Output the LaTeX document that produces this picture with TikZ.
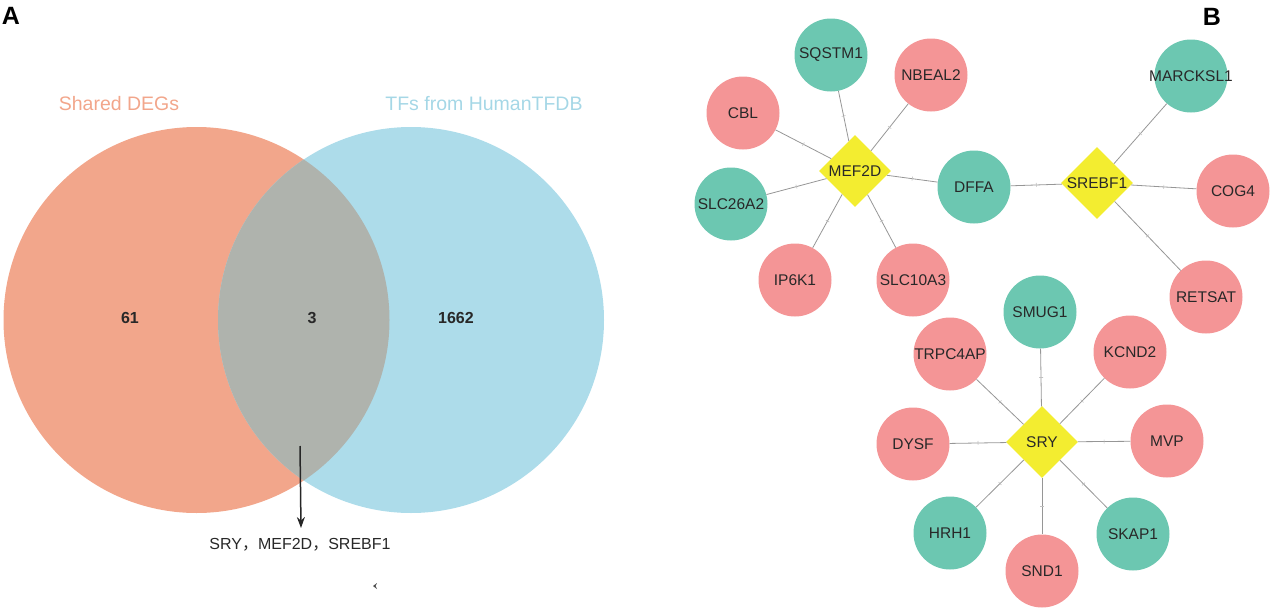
\documentclass[tikz,border=0pt]{standalone}
\usepackage{fontspec}
\setmainfont{Liberation Sans}
\newfontfamily\cjk{Noto Sans CJK SC}
\usetikzlibrary{shapes.geometric,arrows.meta,decorations.markings}
\definecolor{vorange}{RGB}{242,166,139}
\definecolor{vblue}{RGB}{173,220,234}
\definecolor{vbluetxt}{RGB}{165,215,230}
\definecolor{vgrey}{RGB}{175,179,173}
\definecolor{nteal}{RGB}{108,199,177}
\definecolor{npink}{RGB}{244,149,150}
\definecolor{nyellow}{RGB}{243,237,48}
\definecolor{txt}{RGB}{40,40,40}
\definecolor{edgec}{RGB}{150,150,150}
\newcommand{\lbl}[1]{\makebox[0pt][c]{#1}}
\tikzset{
  panel/.style={font=\fontsize{25}{25}\selectfont\bfseries, text=black, inner sep=0},
  setlabel/.style={font=\fontsize{19.5}{20}\selectfont, inner sep=0},
  count/.style={font=\fontsize{16}{16}\selectfont\bfseries, text=txt, inner sep=0},
  gene/.style={circle, minimum size=73pt, inner sep=0, font=\fontsize{15.5}{15.5}\selectfont, text=txt},
  tgene/.style={gene, fill=nteal},
  pgene/.style={gene, fill=npink},
  tf/.style={diamond, fill=nyellow, minimum width=72pt, minimum height=72pt, inner sep=0, aspect=1, font=\fontsize{15.5}{15.5}\selectfont, text=txt},
  link/.style={draw=edgec, line width=0.8pt, postaction={decorate},
    decoration={markings, mark=at position 0.5 with {\draw[edgec!60, line width=0.6pt] (0,-2pt) -- (0,2pt);}}},
  pointer/.style={draw=black!85, line width=1.5pt, -{Stealth[length=11pt,width=8pt]}}
}
\begin{document}
\begin{tikzpicture}[x=1pt,y=-1pt]
\useasboundingbox (0,0) rectangle (1270,608);
% ---------- Panel A ----------
\node[panel] (A) at (11,16) {A};
\fill[vorange] (196.5,320) circle (193);
\fill[vblue] (411,320) circle (193);
\begin{scope}
  \clip (196.5,320) circle (193);
  \fill[vgrey] (411,320) circle (193);
\end{scope}
\node[setlabel, text=vorange] (l1) at (119,104) {Shared DEGs};
\node[setlabel, text=vbluetxt] (l2) at (484,104) {TFs from HumanTFDB};
\node[count] (n61) at (130,318) {61};
\node[count] (n3) at (312,318) {3};
\node[count] (n1662) at (456,318) {1662};
\node[font=\fontsize{16}{16}\selectfont, text=txt, inner sep=0] (tfs) at (300,545) {SRY{\cjk ，}MEF2D{\cjk ，}SREBF1};
\coordinate (arrstart) at (300,446);
\coordinate (arrend) at (301,528);
\draw[pointer] (arrstart) -- (arrend);
\coordinate (mk) at (373,586);
\fill[black!70] (mk) -- ++(4,-3) -- ++(-1.5,3) -- ++(1.5,3) -- cycle;
% ---------- Panel B ----------
\node[panel] (B) at (1212,17) {B};
\node[tgene] (SQSTM1) at (831,55) {\lbl{SQSTM1}};
\node[pgene] (NBEAL2) at (931,75) {\lbl{NBEAL2}};
\node[pgene] (CBL) at (743,113) {\lbl{CBL}};
\node[tgene] (SLC26A2) at (731,204) {\lbl{SLC26A2}};
\node[tgene] (DFFA) at (974,187) {\lbl{DFFA}};
\node[tgene] (MARCKSL1) at (1191,76) {\lbl{MARCKSL1}};
\node[pgene] (COG4) at (1233,191) {\lbl{COG4}};
\node[pgene] (IP6K1) at (795,280) {\lbl{IP6K1}};
\node[pgene] (SLC10A3) at (913,280) {\lbl{SLC10A3}};
\node[pgene] (RETSAT) at (1206,297) {\lbl{RETSAT}};
\node[tgene] (SMUG1) at (1040,312) {\lbl{SMUG1}};
\node[pgene] (TRPC4AP) at (950,354) {\lbl{TRPC4AP}};
\node[pgene] (KCND2) at (1130,352) {\lbl{KCND2}};
\node[pgene] (DYSF) at (913,444) {\lbl{DYSF}};
\node[pgene] (MVP) at (1167,441) {\lbl{MVP}};
\node[tgene] (HRH1) at (950,533) {\lbl{HRH1}};
\node[tgene] (SKAP1) at (1133,534) {\lbl{SKAP1}};
\node[pgene] (SND1) at (1042,571) {\lbl{SND1}};
\node[tf] (MEF2D) at (855,171) {\lbl{MEF2D}};
\node[tf] (SREBF1) at (1097,183) {\lbl{SREBF1}};
\node[tf] (SRY) at (1042,442) {\lbl{SRY}};
\foreach \g in {SQSTM1,NBEAL2,CBL,SLC26A2,IP6K1,SLC10A3,DFFA}
  \draw[link] (MEF2D) -- (\g);
\foreach \g in {DFFA,MARCKSL1,COG4,RETSAT}
  \draw[link] (SREBF1) -- (\g);
\foreach \g in {SMUG1,TRPC4AP,KCND2,DYSF,MVP,HRH1,SKAP1,SND1}
  \draw[link] (SRY) -- (\g);
\end{tikzpicture}
\end{document}
